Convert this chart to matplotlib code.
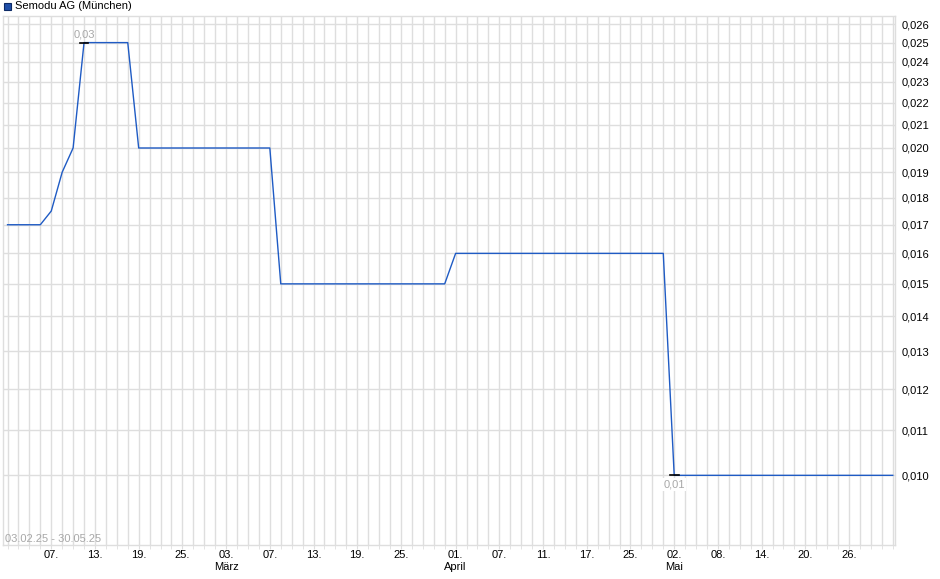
import matplotlib
matplotlib.use("Agg")
import matplotlib.pyplot as plt
from matplotlib.ticker import FixedLocator, NullLocator, NullFormatter
from matplotlib.patches import Rectangle

plt.rcParams['font.family'] = ['Liberation Sans', 'DejaVu Sans']

# trading days (Munich), 03.02.25 - 30.05.25
dates = [
    "03.02", "04.02", "05.02", "06.02", "07.02", "10.02", "11.02", "12.02", "13.02", "14.02",
    "17.02", "18.02", "19.02", "20.02", "21.02", "24.02", "25.02", "26.02", "27.02", "28.02",
    "03.03", "04.03", "05.03", "06.03", "07.03", "10.03", "11.03", "12.03", "13.03", "14.03",
    "17.03", "18.03", "19.03", "20.03", "21.03", "24.03", "25.03", "26.03", "27.03", "28.03", "31.03",
    "01.04", "02.04", "03.04", "04.04", "07.04", "08.04", "09.04", "10.04", "11.04", "14.04",
    "15.04", "16.04", "17.04", "22.04", "23.04", "24.04", "25.04", "28.04", "29.04", "30.04",
    "02.05", "05.05", "06.05", "07.05", "08.05", "09.05", "12.05", "13.05", "14.05", "15.05",
    "16.05", "19.05", "20.05", "21.05", "22.05", "23.05", "26.05", "27.05", "28.05", "29.05", "30.05",
]
prices = [
    0.017, 0.017, 0.017, 0.017, 0.0175, 0.019, 0.020, 0.025, 0.025, 0.025,
    0.025, 0.025, 0.020, 0.020, 0.020, 0.020, 0.020, 0.020, 0.020, 0.020,
    0.020, 0.020, 0.020, 0.020, 0.020, 0.015, 0.015, 0.015, 0.015, 0.015,
    0.015, 0.015, 0.015, 0.015, 0.015, 0.015, 0.015, 0.015, 0.015, 0.015, 0.015,
    0.016, 0.016, 0.016, 0.016, 0.016, 0.016, 0.016, 0.016, 0.016, 0.016,
    0.016, 0.016, 0.016, 0.016, 0.016, 0.016, 0.016, 0.016, 0.016, 0.016,
    0.010, 0.010, 0.010, 0.010, 0.010, 0.010, 0.010, 0.010, 0.010, 0.010,
    0.010, 0.010, 0.010, 0.010, 0.010, 0.010, 0.010, 0.010, 0.010, 0.010, 0.010,
]
tick_dates = ["07.02", "13.02", "19.02", "25.02", "03.03", "07.03", "13.03", "19.03", "25.03",
              "01.04", "07.04", "11.04", "17.04", "25.04", "02.05", "08.05", "14.05", "20.05", "26.05"]
month_names = {"03.03": "März", "01.04": "April", "02.05": "Mai"}
y_ticks = [0.010, 0.011, 0.012, 0.013, 0.014, 0.015, 0.016, 0.017, 0.018,
           0.019, 0.020, 0.021, 0.022, 0.023, 0.024, 0.025, 0.026]

x = list(range(len(dates)))
grid_col = "#dedede"
line_col = "#1f5bc4"

fig = plt.figure(figsize=(9.4, 5.79), dpi=100)
ax = fig.add_axes([0.0029, 0.0579, 0.9492, 0.9145])

ax.plot(x, prices, color=line_col, linewidth=1.0, zorder=3)
ax.set_yscale("log")
ax.set_xlim(-0.44, 81.2)
ax.set_ylim(0.00862, 0.02645)

# grid: one vertical line per trading day, horizontal at the price ticks
ax.xaxis.set_minor_locator(FixedLocator(x))
ax.xaxis.set_minor_formatter(NullFormatter())
tick_pos = [dates.index(d) for d in tick_dates]
tick_lbl = [d[:3] + ("\n" + month_names[d] if d in month_names else "") for d in tick_dates]
ax.set_xticks(tick_pos)
ax.set_xticklabels(tick_lbl, fontsize=8, linespacing=1.3)
ax.grid(True, which="both", axis="x", color=grid_col, linewidth=1)

ax.yaxis.set_major_locator(FixedLocator(y_ticks))
ax.yaxis.set_minor_locator(NullLocator())
ax.set_yticklabels([f"{v:.3f}".replace(".", ",") for v in y_ticks], fontsize=8)
ax.yaxis.tick_right()
ax.grid(True, which="major", axis="y", color=grid_col, linewidth=1)
ax.set_axisbelow(True)

ax.tick_params(axis="x", which="both", length=3, color=grid_col, pad=0)
ax.tick_params(axis="y", which="both", length=0, pad=5)
for s in ax.spines.values():
    s.set_color(grid_col)
    s.set_linewidth(1)

# high / low markers
i_max = prices.index(max(prices))
i_min = prices.index(min(prices))
ax.plot([i_max - 0.4, i_max + 0.4], [prices[i_max]] * 2, color="black", lw=1.2, zorder=4)
ax.plot([i_min - 0.4, i_min + 0.4], [prices[i_min]] * 2, color="black", lw=1.2, zorder=4)
ax.annotate(f"{max(prices):.2f}".replace(".", ","), (i_max, prices[i_max]),
            xytext=(0, 2), textcoords="offset points", ha="center", va="bottom",
            fontsize=8, color="#a8a8a8")
ax.annotate(f"{min(prices):.2f}".replace(".", ","), (i_min, prices[i_min]),
            xytext=(0, -3), textcoords="offset points", ha="center", va="top",
            fontsize=8, color="#a8a8a8",
            bbox=dict(boxstyle="square,pad=0.1", fc="white", ec="none"))

ax.text(0.003, 0.003, "03.02.25 - 30.05.25", transform=ax.transAxes,
        fontsize=8, color="#a8a8a8", ha="left", va="bottom")

# legend
fig.patches.append(Rectangle((4 / 940, 1 - 10 / 579), 7 / 940, 7 / 579,
                             transform=fig.transFigure, facecolor="#1f4fa8",
                             edgecolor="#0d2a66", linewidth=0.8))
fig.text(15 / 940, 1 - 6 / 579, "Semodu AG (München)", fontsize=8, va="center", ha="left")

fig.savefig("out.png", dpi=100)
